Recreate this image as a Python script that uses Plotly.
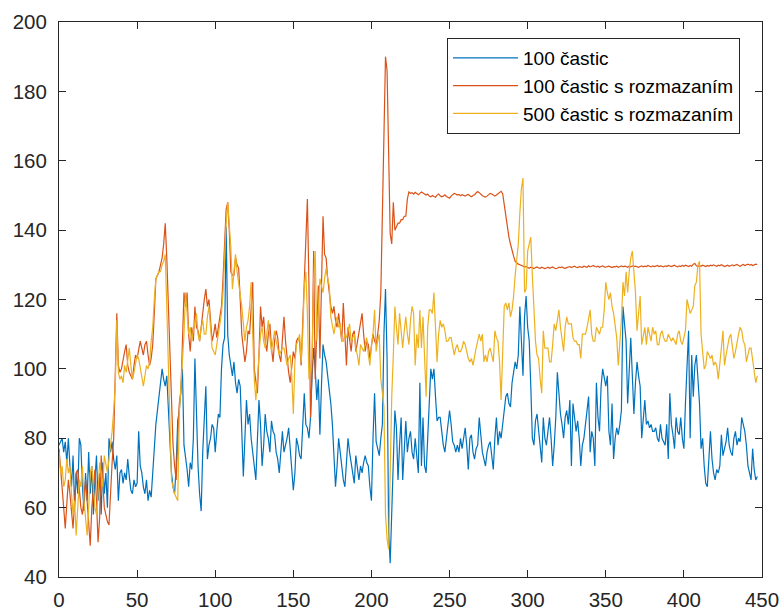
import plotly.graph_objects as go

# Series values, one value per sample index 0..447
blue_100 = [
    78,79,80,76,79,73,80,72,66,75,
    60,70,64,80,78,66,59,70,62,76,
    64,72,58,68,75,62,70,58,73,64,
    70,60,80,76,79,74,71,75,62,70,
    71,67,70,68,74,69,65,64,68,66,
    67,82,72,70,66,64,68,62,65,63,
    70,78,84,88,92,96,100,97,95,98,
    88,78,70,66,64,72,85,88,93,100,
    78,75,71,66,73,71,80,103,84,72,
    64,59,76,88,95,74,78,80,84,83,
    76,82,87,86,100,107,109,141,110,104,
    101,98,102,96,93,97,95,82,69,80,
    91,84,87,80,75,72,68,80,91,84,
    72,78,87,82,80,76,85,82,81,76,
    74,70,76,82,76,78,80,83,76,72,
    65,70,80,78,75,74,85,93,84,83,
    80,86,98,106,100,91,97,81,95,107,
    104,102,98,94,90,84,76,66,72,80,
    76,72,68,66,72,80,76,73,70,67,
    75,71,68,72,70,73,75,73,72,66,
    62,80,93,79,77,75,80,84,110,123,
    103,53,44,61,78,88,83,68,78,86,
    68,78,85,76,80,82,76,74,80,75,
    70,96,72,86,72,70,80,92,100,97,
    100,92,85,86,86,82,78,76,80,85,
    88,84,79,78,76,78,76,80,77,80,
    83,78,71,80,81,76,74,77,78,86,
    80,76,74,72,76,78,79,75,71,80,
    86,78,82,80,84,88,92,93,90,89,
    96,99,102,100,104,118,108,98,115,121,
    112,108,95,80,78,85,87,82,78,73,
    86,80,78,82,86,80,72,78,86,99,
    92,87,84,80,86,88,84,91,72,90,
    86,82,85,80,72,78,80,84,88,92,
    76,82,80,72,96,86,82,95,100,97,
    95,98,82,78,90,74,80,83,81,84,
    88,118,112,108,90,100,109,98,87,96,
    102,98,95,80,86,91,84,85,83,84,
    82,82,83,80,79,84,80,79,78,84,
    74,93,84,81,77,86,82,81,86,80,
    77,90,100,111,80,104,92,101,104,96,
    90,77,80,72,67,66,75,82,74,70,
    68,71,70,72,81,75,77,79,83,78,
    76,75,80,82,78,80,79,86,84,82,
    78,72,70,68,77,71,68,69,
]

red_100_blur = [
    77,72,66,60,54,62,68,64,58,54,
    62,70,71,66,60,58,64,68,62,55,
    49,60,66,71,62,50,57,75,68,60,
    58,56,55,66,73,80,96,116,101,99,
    100,103,105,107,101,99,98,97,101,104,
    103,105,108,106,104,107,108,104,101,103,
    107,116,126,127,128,130,132,136,142,132,
    118,104,90,78,72,68,80,90,93,106,
    122,118,122,110,105,112,108,118,112,111,
    108,112,117,120,123,118,120,114,108,110,
    113,109,112,114,118,126,138,146,148,140,
    128,127,127,132,130,129,120,110,106,102,
    105,111,110,118,125,100,96,93,104,118,
    112,115,108,105,110,113,106,102,108,111,
    109,104,102,108,115,108,103,99,96,100,
    105,103,108,109,108,101,112,122,135,149,
    124,86,100,134,97,110,124,103,125,144,
    133,132,126,122,118,116,118,114,112,116,
    112,108,119,110,101,112,108,105,110,111,
    105,108,111,113,116,110,105,108,107,103,
    106,110,108,107,110,114,122,145,163,190,
    186,160,139,136,148,140,141,142,142,143,
    143,144,144,149,
    # plateau ~150 (224..283)
    151,150.6,150.8,150.4,150.9,150.5,150.2,150.6,151,150.7,
    150.3,150.1,150.4,149.8,149.6,150,149.7,149.5,150.1,150.4,
    149.9,149.6,149.8,150.2,149.7,149.4,149.2,149.8,150.2,150.6,
    150.4,150.1,150.3,149.9,150.2,150,149.8,150.1,150.3,149.9,
    149.6,150,150.2,150.7,151.1,150.8,150.3,149.9,149.7,149.5,
    149.8,150.2,150.6,150.4,150,149.8,150.1,150.5,150.9,151.2,
    # drop (284..295)
    150.5,147,143.5,140,138,136,134,132.5,131,130.5,130.2,130,
    # plateau ~129.5 (296..447)
    129.8,129.6,129.4,129.5,129.2,129.0,129.3,129.1,128.9,129.2,
    129.4,129.1,129.0,129.3,129.2,128.9,129.1,129.3,129.0,129.2,
    129.4,129.1,128.9,129.0,129.3,129.2,129.4,129.1,129.0,129.2,
    129.3,129.5,129.2,129.4,129.6,129.3,129.2,129.5,129.4,129.3,
    129.6,129.5,129.3,129.7,129.4,129.6,129.8,129.5,129.4,129.6,
    129.3,129.5,129.7,129.4,129.3,129.5,129.6,129.4,129.2,129.5,
    129.4,129.6,129.3,129.5,129.7,129.4,129.6,129.5,129.3,129.6,
    129.4,129.7,129.5,129.6,129.4,129.3,129.5,129.7,129.4,129.6,
    129.5,129.8,129.6,129.4,129.7,129.5,129.6,129.8,129.5,129.7,
    129.6,129.4,129.7,129.5,129.8,129.6,129.5,129.7,129.9,129.6,
    129.4,129.7,129.5,129.8,129.6,129.9,129.7,129.5,129.8,129.6,
    130.2,130.4,129.7,129.5,129.8,129.6,129.9,129.7,129.5,129.8,
    129.6,129.9,129.7,130.0,129.8,129.6,129.9,129.7,130.0,129.8,
    129.5,129.7,129.9,129.6,129.8,130.0,129.7,129.9,130.1,129.8,
    129.6,129.9,130.1,129.8,130.0,130.2,129.9,130.1,129.8,130.0,
    130.2,130.1,
]

yellow_500_blur = [
    76,70,72,66,68,74,70,72,64,58,
    62,52,60,68,66,72,62,56,52,60,
    70,72,66,60,58,64,73,70,66,75,
    72,70,74,78,82,88,95,114,99,97,
    98,96,101,99,103,106,101,97,99,102,
    104,103,100,97,95,98,101,100,102,108,
    112,120,126,127,128,128,130,131,133,118,
    101,84,68,66,64,63,62,87,95,101,
    110,122,116,110,112,108,111,114,116,110,
    108,112,114,110,110,115,118,112,106,105,
    104,107,110,112,116,122,135,142,148,142,
    135,123,128,133,128,125,122,118,113,108,
    112,114,118,125,110,97,91,98,106,110,
    112,108,106,110,114,109,105,108,111,108,
    106,104,105,106,106,103,101,103,104,98,
    87,102,107,108,110,102,110,124,128,116,
    97,100,103,126,134,108,118,126,124,122,
    126,129,126,124,115,112,110,113,115,112,
    113,108,108,110,109,111,113,108,109,110,
    106,104,101,107,106,105,107,109,104,101,
    107,110,117,105,108,110,97,93,89,58,
    51,48,72,92,104,118,112,107,116,110,
    106,111,115,110,107,114,118,116,101,110,
    106,117,106,115,102,92,112,117,117,116,
    122,112,102,110,114,112,113,111,108,108,
    109,109,106,104,106,107,105,105,106,108,
    107,105,103,102,103,101,104,106,108,110,
    108,110,102,104,102,105,106,104,102,111,
    109,108,102,91,104,118,119,117,119,115,
    117,121,127,131,136,145,152,155,122,123,
    134,136,138,127,116,108,104,103,97,93,
    111,106,106,106,102,102,107,113,111,114,
    117,112,108,105,112,115,113,113,113,109,
    108,108,107,107,103,110,110,110,112,114,
    117,110,108,108,112,111,110,112,112,117,
    125,122,120,122,118,116,112,109,101,108,
    114,125,121,128,122,128,132,134,127,122,
    111,116,121,107,110,112,107,112,110,108,
    112,110,111,107,107,110,111,109,108,108,
    110,109,108,109,108,107,110,111,108,107,
    109,111,120,118,116,117,118,124,125,130,
    131,110,105,100,101,105,104,103,104,101,
    102,101,97,101,106,111,101,104,107,109,
    110,107,103,105,108,110,112,111,108,107,
    102,104,106,106,103,100,96,98,
]

series_names = ["100 častic", "100 častic s rozmazaním", "500 častic s rozmazaním"]
series_values = [blue_100, red_100_blur, yellow_500_blur]
series_colors = ["#0072BD", "#D95319", "#EDB120"]

x_ticks = [0, 50, 100, 150, 200, 250, 300, 350, 400, 450]
y_ticks = [40, 60, 80, 100, 120, 140, 160, 180, 200]

fig = go.Figure()
for name, vals, col in zip(series_names, series_values, series_colors):
    fig.add_trace(go.Scatter(
        x=list(range(len(vals))), y=vals, mode="lines", name=name,
        line=dict(color=col, width=1.2),
    ))

axis_common = dict(
    showline=True, linecolor="#262626", linewidth=1, mirror="ticks",
    ticks="inside", ticklen=7, tickwidth=1, tickcolor="#262626",
    showgrid=False, zeroline=False, automargin=False,
    tickfont=dict(family="Liberation Sans, Arial, sans-serif", size=20.5, color="#262626"),
)

fig.update_xaxes(range=[0, 450], tickvals=x_ticks, ticklabelstandoff=4, **axis_common)
fig.update_yaxes(range=[40, 200], tickvals=y_ticks, ticklabelstandoff=7, **axis_common)

fig.update_layout(
    width=782, height=612,
    margin=dict(l=59, r=20, t=22, b=35, autoexpand=False),
    plot_bgcolor="white", paper_bgcolor="white",
    font=dict(family="Liberation Sans, Arial, sans-serif", color="#262626"),
    showlegend=True,
    legend=dict(
        x=0.552, y=0.971, xanchor="left", yanchor="top",
        bgcolor="white", bordercolor="#262626", borderwidth=1,
        font=dict(family="Liberation Sans, Arial, sans-serif", size=19, color="#000000"),
        itemwidth=65, tracegroupgap=0,
    ),
)

fig.write_html("out.html")
